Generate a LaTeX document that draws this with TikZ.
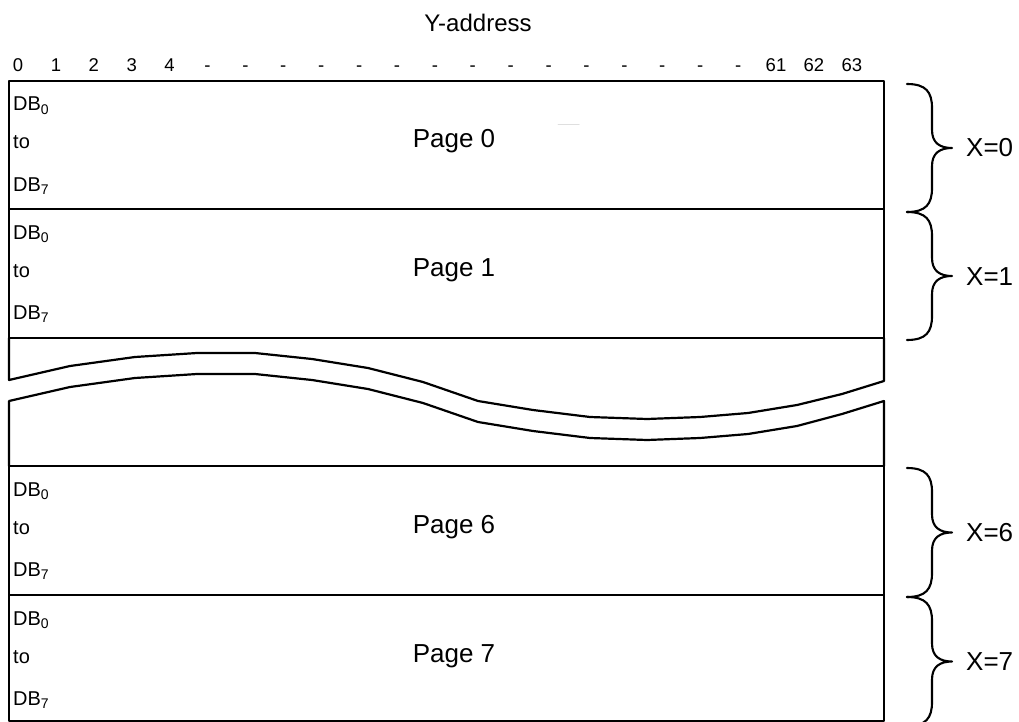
\documentclass[tikz,border=0pt]{standalone}
\usepackage{fontspec}
\setmainfont{Liberation Sans}
\usetikzlibrary{positioning}

\begin{document}
\begin{tikzpicture}[line cap=round,line join=round,x=1pt,y=-1pt,
  pagebox/.style={draw,line width=2.4pt,inner sep=0pt,minimum width=875pt},
  pagetext/.style={font=\fontsize{26}{30}\selectfont,inner sep=0pt,anchor=base},
  dbtext/.style={font=\fontsize{20}{24}\selectfont,inner sep=0pt,anchor=base west},
  yaddr/.style={font=\fontsize{18.5}{22}\selectfont,inner sep=0pt,anchor=base},
  headline/.style={font=\fontsize{24}{28}\selectfont,inner sep=0pt,anchor=base},
  xaddr/.style={font=\fontsize{26}{30}\selectfont,inner sep=0pt,anchor=base west},
  bracket/.style={line width=2.1pt},
  cut/.style={line width=2.2pt}]
\clip (0,0) rectangle (1019,722);
% column addresses
\node[headline] (ytitle) at (478,32) {Y-address};
\foreach \t [count=\i from 0] in {0,1,2,3,4,-,-,-,-,-,-,-,-,-,-,-,-,-,-,-,61,62,63}
  \node[yaddr] (y\i) at ({18+37.9*\i},71.5) {\t};
% pages
\foreach \n/\ya/\yb in {0/81/209,1/209/338,6/466/595,7/595/721} {
  \node[pagebox,minimum height={(\yb-\ya)*1pt}] (page\n) at (446.5,{(\ya+\yb)/2}) {};
  \node[pagetext] (ptext\n) at (454,{\ya+67}) {Page \n};
  \node[dbtext] (dbfirst\n) at (13,{\ya+30}) {DB\textsubscript{0}};
  \node[dbtext] (dbto\n) at (13,{\ya+68}) {to};
  \node[dbtext] (dblast\n) at (13,{\ya+110}) {DB\textsubscript{7}};
}
% broken part
\draw[cut] (9,338) -- (9,380) -- (70,366) -- (135,357) -- (197,353) -- (255,353)
  -- (312,359) -- (368,368) -- (423,382) -- (478,401) -- (533,410) -- (590,417)
  -- (647,419) -- (700,417) -- (748,413) -- (797,405) -- (842,394) -- (884,381) -- (884,338);
\draw[cut] (9,466) -- (9,401) -- (70,387) -- (135,378) -- (197,374) -- (255,374)
  -- (312,380) -- (368,389) -- (423,403) -- (478,422) -- (533,431) -- (590,438)
  -- (647,440) -- (700,438) -- (748,434) -- (797,426) -- (842,414) -- (884,401) -- (884,466);
\draw[gray!25,line width=1pt] (558,125) -- (579,125);
% page addresses
\foreach \ya/\yb/\lab in {84/212/0,212/340/1,468/597/6,597/726/7} {
  \pgfmathsetmacro{\ym}{(\ya+\yb)/2}
  \draw[bracket] (907,\ya) .. controls (926,\ya) and (932,{\ya+8}) .. (932,{\ya+24})
    -- (932,{\ym-18}) .. controls (932,{\ym-5}) and (940,\ym) .. (952,\ym)
    .. controls (940,\ym) and (932,{\ym+5}) .. (932,{\ym+18})
    -- (932,{\yb-24}) .. controls (932,{\yb-8}) and (926,\yb) .. (907,\yb);
  \node[xaddr] (x\lab) at (966,{\ym+9}) {X=\lab};
}
\end{tikzpicture}
\end{document}
